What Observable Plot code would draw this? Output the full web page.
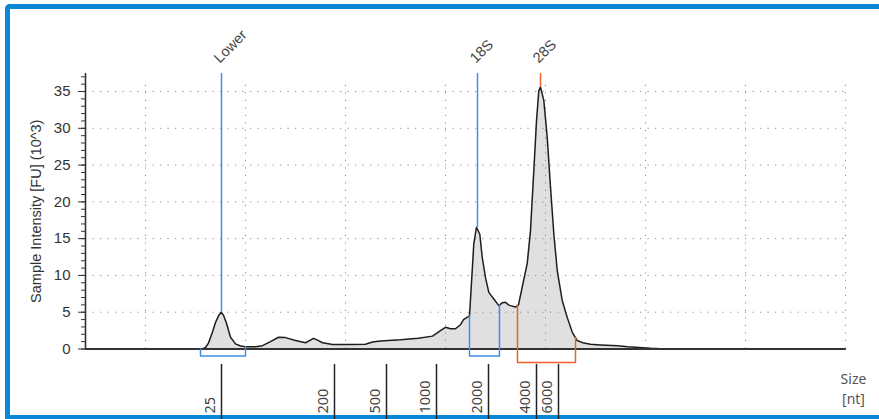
<!DOCTYPE html>
<html>
<head>
<meta charset="utf-8">
<script src="https://cdn.jsdelivr.net/npm/d3@7"></script>
<script src="https://cdn.jsdelivr.net/npm/@observablehq/plot@0.6"></script>
<style>
  html, body { margin: 0; padding: 0; background: #fff; overflow: hidden; }
  #wrap { position: relative; width: 879px; height: 419px; overflow: hidden; background: #fff; }
  #frame { position: absolute; left: 5px; top: 4px; width: 900px; height: 406px;
           border-left: 5px solid #0a86d6; border-top: 5px solid #0a86d6; border-bottom: 5px solid #0a86d6;
           border-top-left-radius: 5px; }
  #chart { position: absolute; left: 0; top: 0; }
</style>
</head>
<body>
<div id="wrap"><div id="frame"></div><div id="chart"></div></div>
<script>
// ---- data (migration time in s, intensity in FU x10^3) ----
const curveT = [17.0, 20.25, 22.85, 23.0, 23.15, 23.34, 23.5, 23.65, 23.78, 23.9, 24.05, 24.25, 24.5, 24.75, 25.0,
  25.5, 25.85, 26.25, 26.65, 27.0, 27.5, 28.0, 28.25, 28.4, 28.6, 28.85, 29.35, 30.25, 31.0, 31.35, 31.75,
  32.75, 33.65, 34.35, 34.75, 35.0, 35.25, 35.5, 35.75, 35.9, 36.2, 36.335, 36.415, 36.55, 36.715, 36.835,
  37.0, 37.165, 37.415, 37.665, 37.85, 38.0, 38.15, 38.25, 38.5, 38.65, 38.835, 39.085, 39.25, 39.415,
  39.55, 39.665, 39.75, 39.915, 40.085, 40.25, 40.415, 40.585, 40.835, 41.085, 41.335, 41.585, 41.915,
  42.25, 42.75, 43.6, 44.1, 45.25, 45.75, 47.75, 55.0];
const curveV = [0, 0, 0, 0.2, 0.8, 2.25, 3.6, 4.5, 5.0, 4.6, 3.5, 1.6, 0.7, 0.4, 0.3,
  0.3, 0.45, 1.0, 1.6, 1.55, 1.15, 0.85, 1.2, 1.45, 1.2, 0.85, 0.6, 0.6, 0.65, 0.95, 1.1,
  1.25, 1.45, 1.75, 2.5, 2.95, 2.75, 2.75, 3.3, 4.0, 4.5, 10.6, 14.3, 16.55, 15.6, 12.5,
  9.7, 7.7, 6.8, 5.9, 6.3, 6.35, 6.0, 5.9, 5.7, 6.0, 8.4, 11.6, 16.1, 24.2,
  31.0, 35.1, 35.6, 33.8, 28.8, 22.0, 15.7, 10.7, 6.6, 4.3, 2.3, 1.15, 0.8,
  0.65, 0.55, 0.43, 0.3, 0.1, 0.05, 0, 0];

const peakNames = ["Lower", "18S", "28S"];
const peakT = [23.8, 36.6, 39.75];
const peakV = [5.0, 16.55, 35.6];
const regionStart = [22.75, 36.2, 38.6];
const regionEnd = [25.0, 37.7, 41.5];

const ladderLabels = ["25", "200", "500", "1000", "2000", "4000", "6000"];
const ladderT = [23.8, 29.45, 32.05, 34.55, 37.15, 39.55, 40.65];

const yMajor = [0, 5, 10, 15, 20, 25, 30, 35];
const xGrid = [20, 25, 30, 35, 40, 45, 50, 55];
const yTitle = "Sample Intensity [FU] (10^3)";
const xTitle = "Size\n[nt]";

// ---- derived tables ----
const curve = curveT.map((t, i) => ({t, v: curveV[i]}));
const at = t => {
  const i = d3.bisectRight(curveT, t);
  if (i <= 0) return curveV[0];
  if (i >= curveT.length) return curveV[curveV.length - 1];
  const t0 = curveT[i - 1], t1 = curveT[i];
  return curveV[i - 1] + (curveV[i] - curveV[i - 1]) * (t - t0) / (t1 - t0);
};
const blue = "#3d90ea", red = "#f0602c";
const peaks = peakNames.map((name, i) => ({name, t: peakT[i], v: peakV[i], color: name === "28S" ? red : blue}));
const brackets = [];
peaks.forEach((p, i) => {
  const depth = p.name === "28S" ? -1.85 : -0.95;
  const s = regionStart[i], e = regionEnd[i];
  brackets.push({name: p.name, color: p.color, t: s, v: at(s)});
  brackets.push({name: p.name, color: p.color, t: s, v: depth});
  brackets.push({name: p.name, color: p.color, t: e, v: depth});
  brackets.push({name: p.name, color: p.color, t: e, v: at(e)});
});
const ladder = ladderLabels.map((label, i) => ({label, t: ladderT[i]}));

const yTop = 37.45;
const grid = {stroke: "#8c8c8c", strokeWidth: 1, strokeDasharray: "1.2,6.3"};
const sans2 = "'Noto Sans', 'Open Sans', sans-serif";

const chart = Plot.plot({
  width: 879, height: 419,
  marginLeft: 85, marginRight: 34, marginTop: 73, marginBottom: 70.5,
  x: {domain: [17, 55], axis: null},
  y: {domain: [0, yTop], axis: null},
  style: {background: "transparent", fontFamily: "'Liberation Sans', Arial, sans-serif", overflow: "visible"},
  marks: [
    Plot.areaY(curve, {x: "t", y: "v", fill: "#e0e0e0", curve: "linear"}),
    Plot.ruleY(yMajor.filter(d => d > 0), {...grid}),
    Plot.ruleX(xGrid, {y1: 0, y2: 36.5, ...grid}),
    Plot.line(curve, {x: "t", y: "v", stroke: "#1e1e1e", strokeWidth: 1.5}),
    Plot.ruleY([0], {stroke: "#333", strokeWidth: 2}),
    Plot.ruleX([17], {y1: 0, y2: yTop, stroke: "#333", strokeWidth: 1.6}),
    Plot.axisY(d3.range(0, 38, 1), {tickSize: 4, text: null, label: null, stroke: "#333"}),
    Plot.axisY(yMajor, {tickSize: 7, tickPadding: 8, label: null, fontSize: 15, fill: "#333", stroke: "#333"}),
    Plot.text([yTitle], {frameAnchor: "left", rotate: -90, dx: -49, textAnchor: "middle", lineAnchor: "middle",
      fontSize: 14.5, fill: "#333"}),
    Plot.ruleX(peaks, {x: "t", y1: "v", y2: yTop, stroke: "color", strokeWidth: 1.5}),
    Plot.text(peaks, {x: "t", text: "name", frameAnchor: "top", rotate: -45, textAnchor: "start", lineAnchor: "middle",
      dx: -5, dy: -13, fontSize: 14.5, fill: "#444"}),
    Plot.line(brackets, {x: "t", y: "v", z: "name", stroke: "color", strokeWidth: 1.5}),
    Plot.ruleX(ladder, {x: "t", y1: -2.1, y2: -9.9, stroke: "#222", strokeWidth: 1.5}),
    Plot.text(ladder, {x: "t", y: -8.77, text: "label", rotate: -90, textAnchor: "start", lineAnchor: "middle", dx: -11,
      fontSize: 14.5, fill: "#444", fontFamily: sans2}),
    Plot.text([xTitle], {frameAnchor: "bottom-right", dx: 8, dy: 38.5, textAnchor: "middle", lineAnchor: "middle",
      lineHeight: 1.43, fontSize: 14, fill: "#555", fontFamily: sans2})
  ]
});
document.getElementById("chart").appendChild(chart);
</script>
</body>
</html>
